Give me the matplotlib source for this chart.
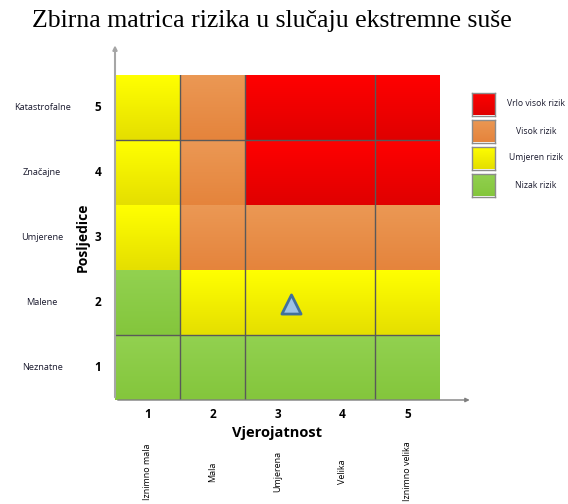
import numpy as np
import matplotlib
matplotlib.use("Agg")
import matplotlib.pyplot as plt

# risk level of each cell, rows from consequence 5 (top) down to 1
risk_rows = [
    ["R3", "R2", "R1", "R1", "R1"],  # 5
    ["R3", "R2", "R1", "R1", "R1"],  # 4
    ["R3", "R2", "R2", "R2", "R2"],  # 3
    ["R4", "R3", "R3", "R3", "R3"],  # 2
    ["R4", "R4", "R4", "R4", "R4"],  # 1
]
consequence_levels = [5, 4, 3, 2, 1]
consequence_names = ["Katastrofalne", "Značajne", "Umjerene", "Malene", "Neznatne"]
probability_levels = [1, 2, 3, 4, 5]
probability_names = ["Iznimno mala", "Mala", "Umjerena", "Velika", "Iznimno velika"]

legend_keys = ["R1", "R2", "R3", "R4"]
legend_labels = ["Vrlo visok rizik", "Visok rizik", "Umjeren rizik", "Nizak rizik"]

# observed event (probability, consequence)
event_x = [3.2]
event_y = [1.97]

# top colour, bottom colour for the vertical gradient in each cell
colors = {
    "R1": ("#ff0000", "#e00000"),
    "R2": ("#eb9854", "#e5843c"),
    "R3": ("#ffff00", "#e5df00"),
    "R4": ("#92d150", "#84c63c"),
}

W, H = 568, 504
fig = plt.figure(figsize=(W / 100, H / 100), dpi=100)


def fx(px):
    return px / W


def fy(py):
    return 1 - py / H


ax = fig.add_axes([fx(115), fy(400), fx(440) - fx(115), fy(75) - fy(400)])
ax.axis("off")


def gradient(key):
    top = np.array(matplotlib.colors.to_rgb(colors[key][0]))
    bot = np.array(matplotlib.colors.to_rgb(colors[key][1]))
    t = np.linspace(0, 1, 32)[:, None]
    return (top * (1 - t) + bot * t)[:, None, :]


for row, cons in zip(risk_rows, consequence_levels):
    for key, prob in zip(row, probability_levels):
        ax.imshow(gradient(key), extent=[prob - 0.5, prob + 0.5, cons - 0.5, cons + 0.5],
                  aspect="auto", interpolation="bilinear", zorder=1)

# dark grid lines that show in the original
for xv in [1.5, 2.5, 4.5]:
    ax.plot([xv, xv], [0.5, 5.5], color="#595959", lw=1.0, zorder=3)
for yv in [1.5, 4.5]:
    ax.plot([0.5, 5.5], [yv, yv], color="#595959", lw=1.0, zorder=3)

ax.set_xlim(0.5, 5.5)
ax.set_ylim(0.5, 5.5)

# axis arrows
ax.annotate("", xy=(0.5, 6.0), xytext=(0.5, 0.5), annotation_clip=False,
            arrowprops=dict(arrowstyle="-|>", color="#a6a6a6", lw=1.5, mutation_scale=6))
ax.annotate("", xy=(6.0, 0.5), xytext=(0.5, 0.5), annotation_clip=False,
            arrowprops=dict(arrowstyle="-|>", color="#7f7f7f", lw=1.0, mutation_scale=6))

# event marker
ax.scatter(event_x, event_y, marker="^", s=190, facecolor="#9dc3e6",
           edgecolor="#41719c", linewidths=2, zorder=5)

# y labels
for cons, name in zip(consequence_levels, consequence_names):
    ax.text(-0.62, cons, name, ha="center", va="center", fontsize=6.6,
            family="Open Sans", color="#1a1a2e", clip_on=False)
    ax.text(0.24, cons, str(cons), ha="center", va="center", fontsize=8.5,
            family="Open Sans", fontweight="bold", clip_on=False)
ax.text(0.01, 3.0, "Posljedice", rotation=90, ha="center", va="center",
        fontsize=10, family="Open Sans", fontweight="bold", clip_on=False)

# x labels
for prob, name in zip(probability_levels, probability_names):
    ax.text(prob, 0.27, str(prob), ha="center", va="center", fontsize=8.5,
            family="Open Sans", fontweight="bold", clip_on=False)
    ax.text(prob, -0.6, name, rotation=90, ha="center", va="center", fontsize=6.5,
            family="Open Sans", clip_on=False)
ax.text(3.0, -0.01, "Vjerojatnost", ha="center", va="center", fontsize=10.5,
        family="Open Sans", fontweight="bold", clip_on=False)

# legend
for i, (key, label) in enumerate(zip(legend_keys, legend_labels)):
    cy = 104 + 27 * i
    lax = fig.add_axes([fx(472), fy(cy + 11.5), fx(495) - fx(472), fy(cy - 11.5) - fy(cy + 11.5)])
    lax.imshow(gradient(key), extent=[0, 1, 0, 1], aspect="auto", interpolation="bilinear")
    lax.set_xticks([])
    lax.set_yticks([])
    for s in lax.spines.values():
        s.set_color("#8c8c8c")
        s.set_linewidth(1.0)
    fig.text(fx(536), fy(cy), label, ha="center", va="center", fontsize=6.2,
             family="Open Sans", color="#1a1a2e")

fig.text(fx(272), fy(21), "Zbirna matrica rizika u slučaju ekstremne suše",
         ha="center", va="center", fontsize=18.5, family="Liberation Serif")

fig.savefig("out.png", dpi=100)
